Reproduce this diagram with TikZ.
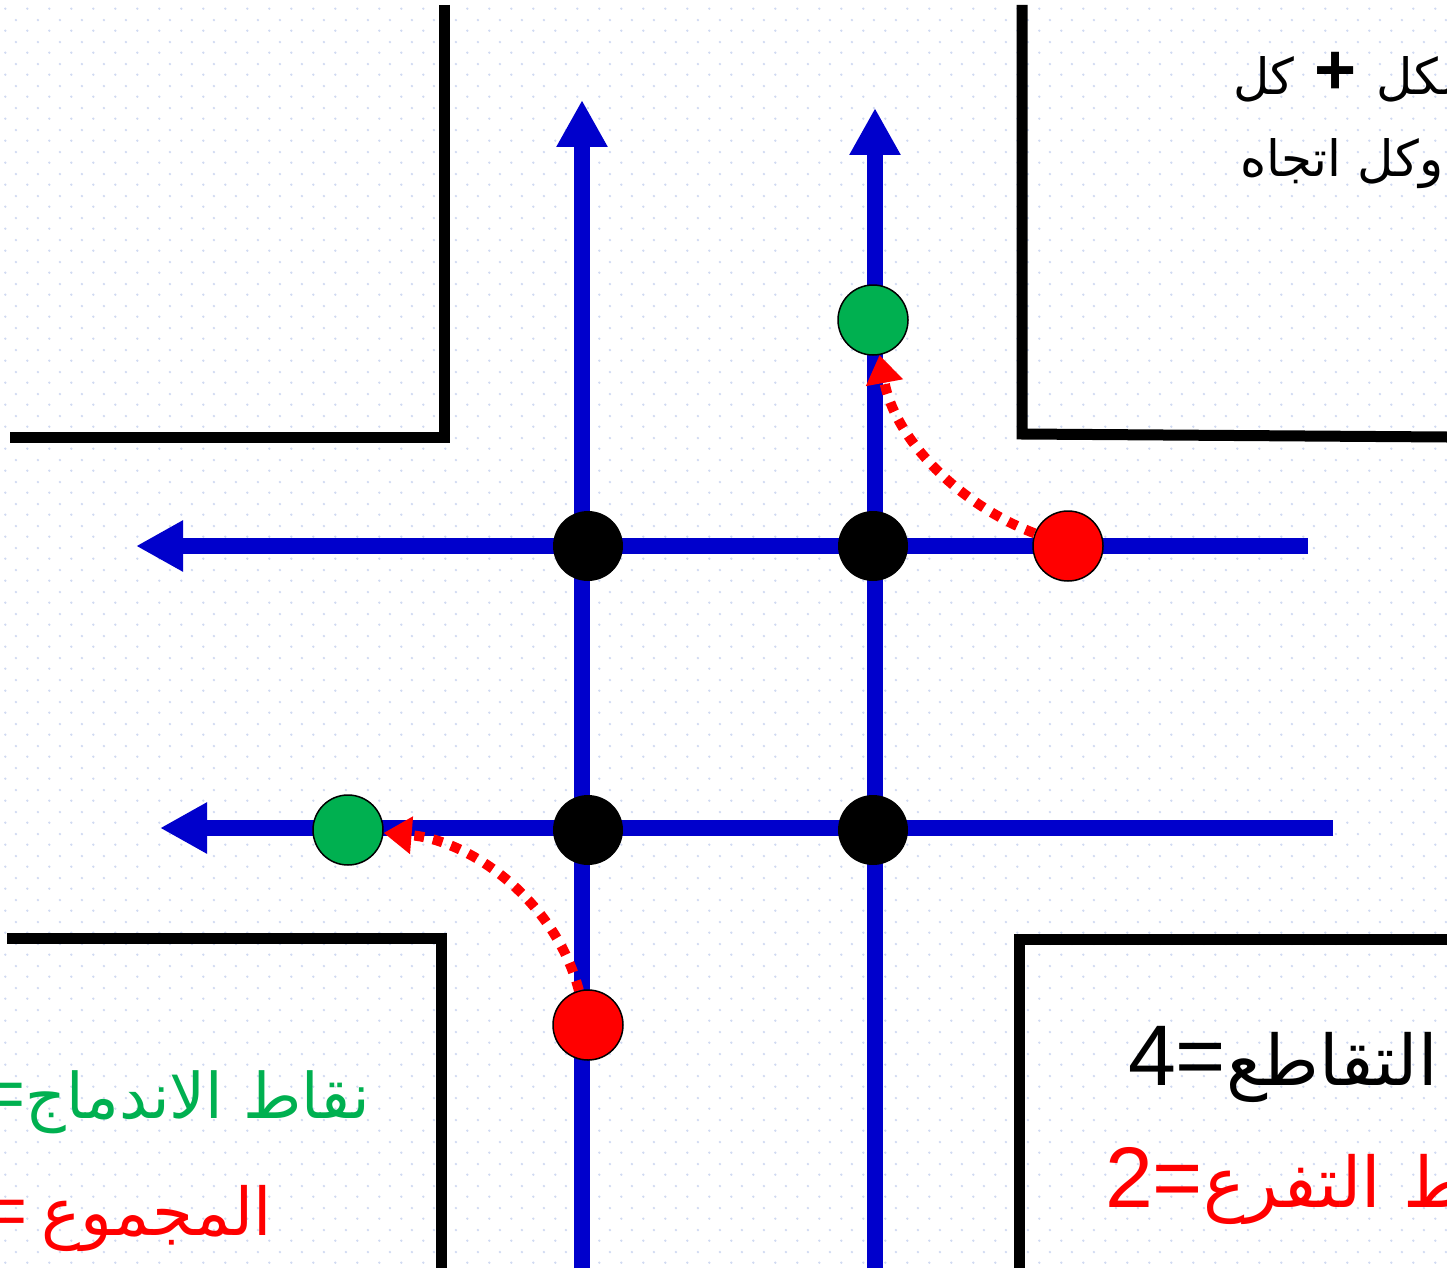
\documentclass[tikz,border=0pt]{standalone}
\usepackage{fontspec}
\TeXXeTstate=1
\newfontfamily\arabicfont[Script=Arabic]{DejaVu Sans}
\newfontfamily\latinfont{Liberation Sans}
\usetikzlibrary{arrows.meta,patterns.meta}
\definecolor{roadblue}{RGB}{0,0,204}
\definecolor{mgreen}{RGB}{0,176,80}
\definecolor{dotcol}{RGB}{208,218,242}
\tikzdeclarepattern{
  name=bgdots, type=colored,
  bounding box={(0pt,0pt) and (21.6pt,21.6pt)},
  tile size={(21.6pt,21.6pt)},
  code={\fill[dotcol] (5.4pt,5.4pt) circle (1.3pt);
        \fill[dotcol] (16.2pt,16.2pt) circle (1.3pt);}
}
\tikzset{
  wall/.style={line width=11pt, line join=miter, draw=black},
  road/.style={line width=16pt, draw=roadblue},
  roadtip/.style={-{Triangle[length=47pt,width=48pt]}},
  conflict/.style={circle, fill=black, minimum size=70pt, inner sep=0pt},
  mergept/.style={circle, fill=mgreen, draw=black, line width=1.5pt, minimum size=70pt, inner sep=0pt},
  divergept/.style={circle, fill=red, draw=black, line width=1.5pt, minimum size=70pt, inner sep=0pt},
  turn/.style={draw=red, line width=10pt, dash pattern=on 10pt off 9pt, -{Triangle[length=28pt,width=36pt]}},
  labeltxt/.style={inner sep=0pt, outer sep=0pt}
}
\begin{document}
\begin{tikzpicture}[x=1pt,y=-1pt]
\useasboundingbox (0,0) rectangle (1447,1268);
\clip (0,0) rectangle (1447,1268);
\fill[white] (0,0) rectangle (1447,1268);
\fill[pattern=bgdots] (0,0) rectangle (1447,1268);

% walls
\draw[wall] (444,5) -- (444,437) -- (10,437);
\draw[wall] (1022,5) -- (1022,434) -- (1447,437);
\draw[wall] (7,938) -- (441,938) -- (441,1268);
\draw[wall] (1447,939) -- (1019,939) -- (1019,1268);

% road end points
\coordinate (v1s) at (582,1268);
\coordinate (v1e) at (582,100);
\coordinate (v2s) at (875,1268);
\coordinate (v2e) at (875,108);
\coordinate (h1s) at (1308,546);
\coordinate (h1e) at (136,546);
\coordinate (h2s) at (1333,828);
\coordinate (h2e) at (160,828);

\draw[road,roadtip] (v1s) -- (v1e);
\draw[road,roadtip] (v2s) -- (v2e);
\draw[road,roadtip] (h1s) -- (h1e);
\draw[road,roadtip] (h2s) -- (h2e);

% points
\node[conflict] (c1) at (588,546) {};
\node[conflict] (c2) at (873,546) {};
\node[conflict] (c3) at (588,830) {};
\node[conflict] (c4) at (873,830) {};
\node[mergept] (g1) at (873,320) {};
\node[mergept] (g2) at (348,830) {};
\node[divergept] (r1) at (1068,546) {};
\node[divergept] (r2) at (588,1025) {};

% turning movements
\draw[turn] (r1) .. controls (960,505) and (895,440) .. (g1);
\draw[turn] (r2) .. controls (555,900) and (470,840) .. (g2);

% texts
\node[labeltxt, anchor=base west] (t1) at (1233,95)
  {\fontsize{50}{60}\selectfont{\arabicfont\beginR كل\endR}\hspace{20pt}{\latinfont\bfseries\fontsize{72}{72}\selectfont +}\hspace{20pt}{\arabicfont\beginR شكل\endR}};
\node[labeltxt, anchor=base west] (t2) at (1240,176)
  {\fontsize{50}{60}\selectfont\arabicfont\beginR وكل اتجاه\endR};
\node[labeltxt, anchor=base west] (t3) at (1128,1085)
  {\fontsize{86}{100}\selectfont{\latinfont 4=}{\fontsize{70}{80}\selectfont\arabicfont\beginR نقاط التقاطع\endR}};
\node[labeltxt, anchor=base west, text=red] (t4) at (1105,1207)
  {\fontsize{86}{100}\selectfont{\latinfont 2=}{\fontsize{70}{80}\selectfont\arabicfont\beginR نقاط التفرع\endR}};
\node[labeltxt, anchor=base east, text=mgreen] (t5) at (370,1118)
  {\fontsize{72}{86}\selectfont{\latinfont =}{\fontsize{63}{76}\selectfont\arabicfont\beginR نقاط الاندماج\endR}};
\node[labeltxt, anchor=base east, text=red] (t6) at (272,1235)
  {\fontsize{72}{86}\selectfont{\latinfont =}\hspace{14pt}{\fontsize{66}{80}\selectfont\arabicfont\beginR المجموع\endR}};
\end{tikzpicture}
\end{document}
